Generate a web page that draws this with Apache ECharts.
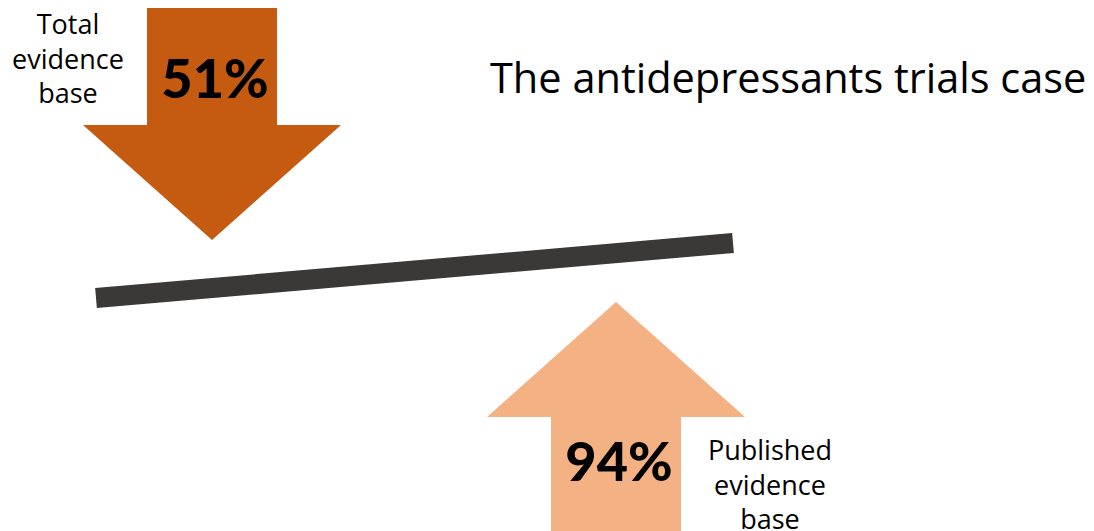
<!DOCTYPE html>
<html>
<head>
<meta charset="utf-8">
<script src="https://cdn.jsdelivr.net/npm/echarts@6/dist/echarts.min.js"></script>
<style>
  html, body { margin: 0; padding: 0; background: #fff; }
  #main { width: 1094px; height: 531px; }
</style>
</head>
<body>
<div id="main"></div>
<script>
// values shown on the arrows
var percents = [51, 94];
var sideLabels = ['Total\nevidence\nbase', 'Published\nevidence\nbase'];
var titleText = 'The antidepressants trials case';

// layout of the picture, in axis units (axes span the whole canvas)
var arrowLayout = [
  { cx: 212, start: 8, headBase: 125, tip: 240, textY: 77, sideX: 68, sideY: 58 },
  { cx: 616, start: 545, headBase: 417, tip: 302, textY: 460, sideX: 770, sideY: 484 }
];
var arrowColors = ['#C55A11', '#F4B183'];
var beamEnds = [[96, 298], [733, 243]];

var myChart = echarts.init(document.getElementById('main'), null, { renderer: 'svg' });

var option = {
  animation: false,
  title: {
    text: titleText,
    left: 485,
    top: 51,
    textStyle: { fontFamily: 'Open Sans', fontSize: 41.5, fontWeight: 'normal', color: '#000' }
  },
  grid: { left: 0, right: 0, top: 0, bottom: 0 },
  xAxis: { type: 'value', min: 0, max: 1094, show: false },
  yAxis: { type: 'value', min: 0, max: 531, inverse: true, show: false },
  series: [
    {
      type: 'line',
      data: beamEnds,
      symbol: 'none',
      lineStyle: { color: '#3B3937', width: 20, cap: 'butt' },
      z: 1
    },
    {
      type: 'custom',
      data: percents.map(function (p, i) { return [i, p]; }),
      z: 2,
      renderItem: function (params, api) {
        var i = api.value(0);
        var L = arrowLayout[i];
        var sw = 65, hw = 129;
        var pts = [
          [L.cx - sw, L.start], [L.cx + sw, L.start], [L.cx + sw, L.headBase],
          [L.cx + hw, L.headBase], [L.cx, L.tip], [L.cx - hw, L.headBase],
          [L.cx - sw, L.headBase]
        ].map(function (p) { return api.coord(p); });
        var c = api.coord([L.cx, L.textY]);
        var s = api.coord([L.sideX, L.sideY]);
        return {
          type: 'group',
          children: [
            { type: 'polygon', shape: { points: pts }, style: { fill: arrowColors[i] } },
            {
              type: 'text',
              style: {
                text: api.value(1) + '%', x: c[0] + 3, y: c[1],
                align: 'center', verticalAlign: 'middle',
                font: '900 54px Lato', fill: '#000'
              }
            },
            {
              type: 'text',
              style: {
                text: sideLabels[i], x: s[0], y: s[1],
                align: 'center', verticalAlign: 'middle',
                font: '27px "Open Sans"', lineHeight: 34.5, fill: '#000'
              }
            }
          ]
        };
      }
    }
  ]
};

myChart.setOption(option);
</script>
</body>
</html>
